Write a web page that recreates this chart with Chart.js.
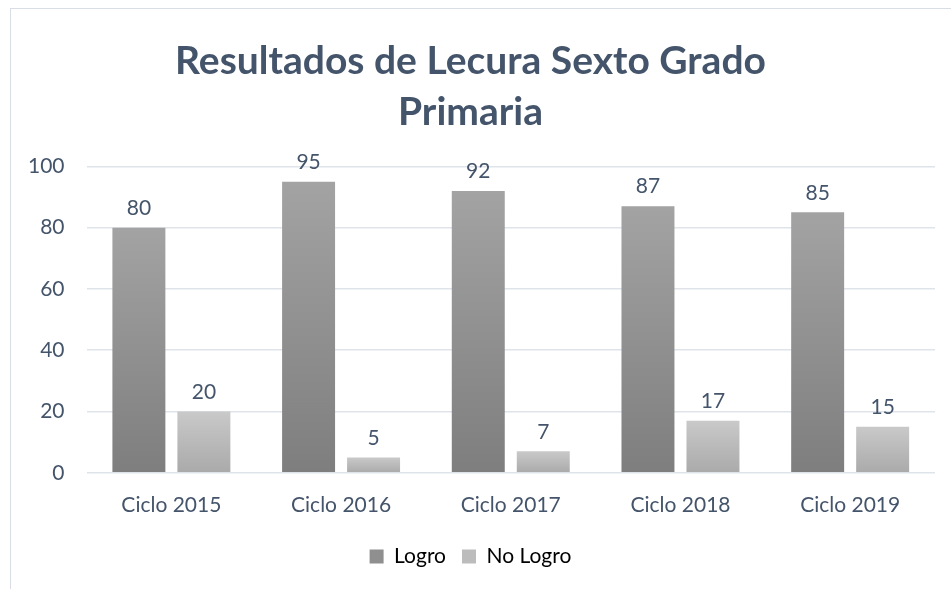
<!DOCTYPE html>
<html>
<head>
<meta charset="utf-8">
<script src="https://cdn.jsdelivr.net/npm/chart.js@4/dist/chart.umd.min.js"></script>
<style>
  body { margin: 0; background: #fff; }
  #box {
    position: absolute; left: 10px; top: 8px;
    width: 941px; height: 581px;
    border-left: 1px solid #d9dee6; border-top: 1px solid #d9dee6;
  }
</style>
</head>
<body>
<div id="box"><canvas id="resultadosChart" width="940" height="580"></canvas></div>
<script>
var ciclos = ["Ciclo 2015", "Ciclo 2016", "Ciclo 2017", "Ciclo 2018", "Ciclo 2019"];
var logro = [80, 95, 92, 87, 85];
var noLogro = [20, 5, 7, 17, 15];

var textColor = "#44546a";
var fontName = "Lato, 'Open Sans', sans-serif";

// degradado por barra, de arriba hacia abajo
function barGradient(top, bottom, fallback) {
  return function (c) {
    var chart = c.chart;
    if (!chart.chartArea || c.type !== "data") return fallback;
    var y = chart.scales.y;
    var y1 = y.getPixelForValue(c.raw);
    var y0 = y.getPixelForValue(0);
    var g = chart.ctx.createLinearGradient(0, y1, 0, y0);
    g.addColorStop(0, top);
    g.addColorStop(1, bottom);
    return g;
  };
}

var etiquetas = {
  id: "etiquetas",
  afterDatasetsDraw: function (chart) {
    var ctx = chart.ctx;
    ctx.save();
    ctx.font = "21px " + fontName;
    ctx.fillStyle = textColor;
    ctx.textAlign = "center";
    ctx.textBaseline = "bottom";
    chart.data.datasets.forEach(function (ds, i) {
      chart.getDatasetMeta(i).data.forEach(function (bar, j) {
        ctx.fillText(ds.data[j], bar.x, bar.y - 9);
      });
    });
    ctx.restore();
  },
};

var ctx = document.getElementById("resultadosChart").getContext("2d");
var resultadosChart = new Chart(ctx, {
  type: "bar",
  plugins: [etiquetas],
  data: {
    labels: ciclos,
    datasets: [
      {
        label: "Logro",
        data: logro,
        backgroundColor: barGradient("#a3a3a3", "#7e7e7e", "#8f8f8f"),
        categoryPercentage: 0.766,
        barPercentage: 0.815,
      },
      {
        label: "No Logro",
        data: noLogro,
        backgroundColor: barGradient("#c9c9c9", "#aaaaaa", "#bcbcbc"),
        categoryPercentage: 0.766,
        barPercentage: 0.815,
      },
    ],
  },
  options: {
    responsive: false,
    animation: false,
    layout: { padding: { left: -5, right: 16, top: 27, bottom: 12 } },
    plugins: {
      title: {
        display: true,
        text: ["Resultados de Lecura Sexto Grado", "Primaria"],
        color: textColor,
        font: { family: fontName, size: 39, weight: "bold", lineHeight: 1.3 },
        padding: { top: 0, bottom: 29 },
      },
      legend: {
        position: "bottom",
        labels: {
          color: textColor,
          font: { family: fontName, size: 21 },
          boxWidth: 14,
          boxHeight: 14,
          padding: 16,
          generateLabels: function (chart) {
            var fills = ["#8f8f8f", "#bcbcbc"];
            return chart.data.datasets.map(function (ds, i) {
              return { text: ds.label, fillStyle: fills[i], strokeStyle: fills[i], lineWidth: 0, datasetIndex: i };
            });
          },
        },
      },
      tooltip: { enabled: false },
    },
    scales: {
      x: {
        grid: { display: false },
        border: { display: false },
        ticks: { color: textColor, font: { family: fontName, size: 21 }, padding: 12 },
      },
      y: {
        min: 0,
        max: 100,
        ticks: { stepSize: 20, color: textColor, font: { family: fontName, size: 21 }, padding: 22 },
        grid: { color: "#dfe4ea", lineWidth: 1.5, drawTicks: false },
        border: { display: false },
      },
    },
  },
});
</script>
</body>
</html>
